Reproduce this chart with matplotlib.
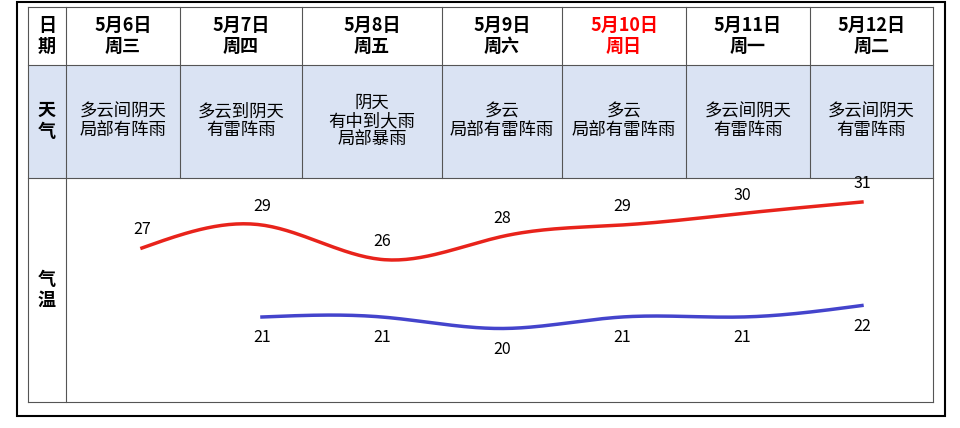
import matplotlib
matplotlib.use("Agg")
import matplotlib.pyplot as plt
import numpy as np

plt.rcParams['font.family'] = ['Noto Sans CJK SC', 'DejaVu Sans']

dates = ["5月6日", "5月7日", "5月8日", "5月9日", "5月10日", "5月11日", "5月12日"]
weekdays = ["周三", "周四", "周五", "周六", "周日", "周一", "周二"]
weather = ["多云间阴天\n局部有阵雨", "多云到阴天\n有雷阵雨", "阴天\n有中到大雨\n局部暴雨",
           "多云\n局部有雷阵雨", "多云\n局部有雷阵雨", "多云间阴天\n有雷阵雨", "多云间阴天\n有雷阵雨"]
high_idx = [0, 1, 2, 3, 4, 5, 6]
high = [27, 29, 26, 28, 29, 30, 31]
low_idx = [1, 2, 3, 4, 5, 6]
low = [21, 21, 20, 21, 21, 22]

W, H = 960, 428
fig = plt.figure(figsize=(9.6, 4.28), dpi=100)
bg = fig.add_axes([0, 0, 1, 1])
bg.set_xlim(0, W); bg.set_ylim(H, 0); bg.axis('off')

bg.add_patch(plt.Rectangle((17, 2), 928, 414, fill=False, ec='black', lw=1.5))
cols = [28, 66, 180, 302, 442, 562, 686, 810, 933]
rows = [7, 65, 178, 402]
bg.add_patch(plt.Rectangle((28, 65), 905, 113, fc='#dae3f3', ec='none'))
lc = '#555555'
for y in rows:
    bg.plot([28, 933], [y, y], color=lc, lw=0.8)
for i, x in enumerate(cols):
    if i in (0, 1, len(cols) - 1):
        bg.plot([x, x], [7, 402], color=lc, lw=0.8)
    else:
        bg.plot([x, x], [7, 178], color=lc, lw=0.8)

bg.text(47, 36, "日\n期", ha='center', va='center', fontsize=13, fontweight='bold', linespacing=1.1)
bg.text(47, 121, "天\n气", ha='center', va='center', fontsize=13, fontweight='bold', linespacing=1.1)
bg.text(47, 290, "气\n温", ha='center', va='center', fontsize=13, fontweight='bold', linespacing=1.1)
for i in range(7):
    cx = (cols[i + 1] + cols[i + 2]) / 2
    c = 'red' if dates[i] == "5月10日" else 'black'
    bg.text(cx, 36, dates[i] + "\n" + weekdays[i], ha='center', va='center', fontsize=13,
            fontweight='bold', color=c, linespacing=1.1)
    bg.text(cx, 121, weather[i], ha='center', va='center', fontsize=12.5, linespacing=1.0)

ax = fig.add_axes([66 / W, 1 - 402 / H, (933 - 66) / W, (402 - 178) / H])
ax.set_facecolor('none')
ax.axis('off')
ax.set_xlim(-0.633, 6.592)
ax.set_ylim(27 - 154 / 11.5, 27 + 70 / 11.5)

def spline(x, y, n=200):
    x = np.asarray(x, float); y = np.asarray(y, float)
    m = len(x); h = np.diff(x)
    A = np.zeros((m, m)); b = np.zeros(m)
    A[0, 0] = A[-1, -1] = 1
    for i in range(1, m - 1):
        A[i, i - 1] = h[i - 1]; A[i, i] = 2 * (h[i - 1] + h[i]); A[i, i + 1] = h[i]
        b[i] = 3 * ((y[i + 1] - y[i]) / h[i] - (y[i] - y[i - 1]) / h[i - 1])
    c = np.linalg.solve(A, b)
    xs = np.linspace(x[0], x[-1], n); ys = np.empty_like(xs)
    for k, xv in enumerate(xs):
        i = min(np.searchsorted(x, xv, side='right') - 1, m - 2)
        bi = (y[i + 1] - y[i]) / h[i] - h[i] * (2 * c[i] + c[i + 1]) / 3
        di = (c[i + 1] - c[i]) / (3 * h[i]); t = xv - x[i]
        ys[k] = y[i] + bi * t + c[i] * t ** 2 + di * t ** 3
    return xs, ys

xs, ys = spline(high_idx, high)
ax.plot(xs, ys, color='#e8231b', lw=2.5)
xs, ys = spline(low_idx, low)
ax.plot(xs, ys, color='#4444cc', lw=2.5)
for x, v in zip(high_idx, high):
    ax.annotate(str(v), (x, v), xytext=(0, 7), textcoords='offset points', ha='center', va='bottom', fontsize=11.5)
for x, v in zip(low_idx, low):
    ax.annotate(str(v), (x, v), xytext=(0, -9), textcoords='offset points', ha='center', va='top', fontsize=11.5)

fig.savefig("out.png", dpi=100)
